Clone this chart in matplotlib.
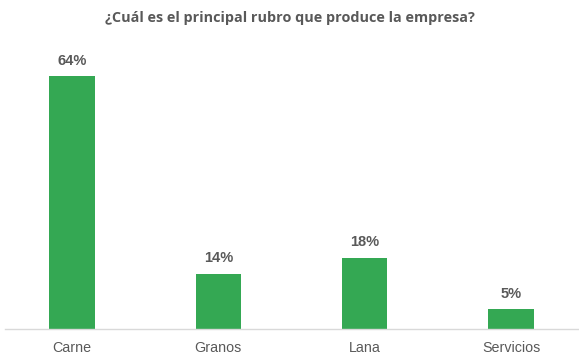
import matplotlib
matplotlib.use('Agg')
import matplotlib.pyplot as plt

categorias = ["Carne", "Granos", "Lana", "Servicios"]
porcentajes = [64, 14, 18, 5]
titulo = "¿Cuál es el principal rubro que produce la empresa?"

VERDE = "#34A853"
GRIS = "#595959"

fig = plt.figure(figsize=(5.79, 3.58), dpi=100)
ax = fig.add_axes([5 / 579, 1 - 329 / 358, 574 / 579, 290 / 358])

x = range(len(categorias))
barras = ax.bar(x, porcentajes, width=0.31, color=VERDE, zorder=2)
for b, v in zip(barras, porcentajes):
    ax.text(b.get_x() + b.get_width() / 2, v + 2.2, f"{v}%", ha="center", va="bottom",
            fontsize=10.5, fontweight="bold", color=GRIS, family="Liberation Sans")

ax.set_xlim(-0.458, 3.465)
ax.set_ylim(0, 73.5)
ax.set_xticks(list(x))
ax.set_xticklabels(categorias, fontsize=10.3, color=GRIS, family="Liberation Sans")
ax.tick_params(axis="x", length=0, pad=9)
ax.set_yticks([])
for lado in ["top", "right", "left"]:
    ax.spines[lado].set_visible(False)
ax.spines["bottom"].set_color("#D9D9D9")
ax.spines["bottom"].set_linewidth(1)

fig.text(0.5, 1 - 18 / 358, titulo, ha="center", va="center", fontsize=10.4,
         fontweight="bold", color=GRIS, family="Open Sans")

fig.savefig("out.png", dpi=100, facecolor="white")
